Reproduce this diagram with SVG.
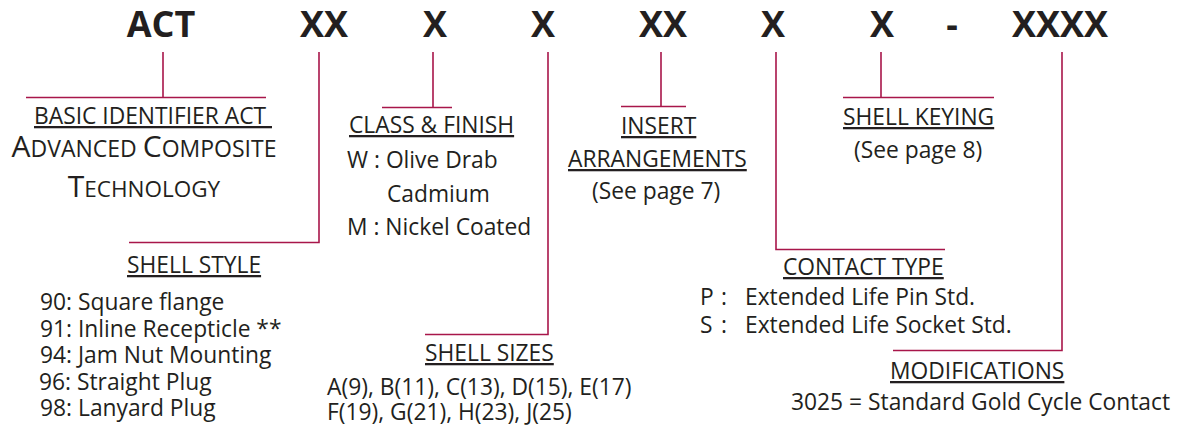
<svg xmlns="http://www.w3.org/2000/svg" width="1180" height="426" viewBox="0 0 1180 426">
<style>
.code{font-family:"Open Sans","Noto Sans",sans-serif;font-weight:bold;font-size:36px;fill:#231f20;text-anchor:middle}
.h{font-family:"Open Sans","Noto Sans",sans-serif;font-size:22.8px;fill:#231f20;text-decoration:underline}
.t{font-family:"Open Sans","Noto Sans",sans-serif;font-size:22.8px;fill:#231f20}
.sc{font-family:"Open Sans","Noto Sans",sans-serif;fill:#231f20;text-anchor:middle}
.ln{fill:none;stroke:#a8164a;stroke-width:1.6}
</style>
<rect width="1180" height="426" fill="#fff"/>
<g id="header">
<text class="code" x="161" y="37">ACT</text>
<text class="code" x="324" y="37">XX</text>
<text class="code" x="435" y="37">X</text>
<text class="code" x="543" y="37">X</text>
<text class="code" x="663" y="37">XX</text>
<text class="code" x="773" y="37">X</text>
<text class="code" x="882" y="37">X</text>
<text class="code" x="952" y="37">-</text>
<text class="code" x="1060" y="37">XXXX</text>
</g>
<g id="connectors">
<path class="ln" d="M163 52V97.5M26 97.5H266"/>
<path class="ln" d="M319 52V242.5H129"/>
<path class="ln" d="M433 52V107.5M382 107.5H452"/>
<path class="ln" d="M548 52V334.5H425"/>
<path class="ln" d="M661 52V106.5M621 106.5H686"/>
<path class="ln" d="M776 52V249.5H945"/>
<path class="ln" d="M881 52V97.5M843 97.5H994"/>
<path class="ln" d="M1062 52V350.5H893"/>
</g>
<g id="basic-identifier">
<text class="h" x="34" y="124" xml:space="preserve">BASIC IDENTIFIER ACT&#160;</text>
<text class="sc" x="144" y="157"><tspan font-size="30">A</tspan><tspan font-size="23">DVANCED </tspan><tspan font-size="30">C</tspan><tspan font-size="23">OMPOSITE</tspan><tspan x="144" y="197" font-size="30">T</tspan><tspan font-size="22.5">ECHNOLOGY</tspan></text>
</g>
<g id="shell-style">
<text class="h" x="127" y="273">SHELL STYLE</text>
<text class="t"><tspan x="40" y="310">90: Square flange</tspan><tspan x="40" y="337">91: Inline Recepticle **</tspan><tspan x="40" y="363">94: Jam Nut Mounting</tspan><tspan x="39" y="390">96: Straight Plug</tspan><tspan x="40" y="416">98: Lanyard Plug</tspan></text>
</g>
<g id="class-finish">
<text class="h" x="349" y="133">CLASS &amp; FINISH</text>
<text class="t"><tspan x="347" y="168">W : Olive Drab</tspan><tspan x="387" y="202">Cadmium</tspan><tspan x="347" y="235">M : Nickel Coated</tspan></text>
</g>
<g id="shell-sizes">
<text class="h" x="425" y="361">SHELL SIZES</text>
<text class="t"><tspan x="327" y="395">A(9), B(11), C(13), D(15), E(17)</tspan><tspan x="327" y="420">F(19), G(21), H(23), J(25)</tspan></text>
</g>
<g id="insert-arrangements">
<text class="h" x="621" y="134">INSERT</text>
<text class="h" x="568" y="167">ARRANGEMENTS</text>
<text class="t" x="592" y="199">(See page 7)</text>
</g>
<g id="contact-type">
<text class="h" x="783" y="275">CONTACT TYPE</text>
<text class="t"><tspan x="700" y="305">P</tspan><tspan x="721" y="305">:</tspan><tspan x="745" y="305">Extended Life Pin Std.</tspan><tspan x="700" y="333">S</tspan><tspan x="721" y="333">:</tspan><tspan x="745" y="333">Extended Life Socket Std.</tspan></text>
</g>
<g id="shell-keying">
<text class="h" x="843" y="125">SHELL KEYING</text>
<text class="t" x="854" y="158">(See page 8)</text>
</g>
<g id="modifications">
<text class="h" x="890" y="379">MODIFICATIONS</text>
<text class="t" x="791" y="410">3025 = Standard Gold Cycle Contact</text>
</g>
</svg>
